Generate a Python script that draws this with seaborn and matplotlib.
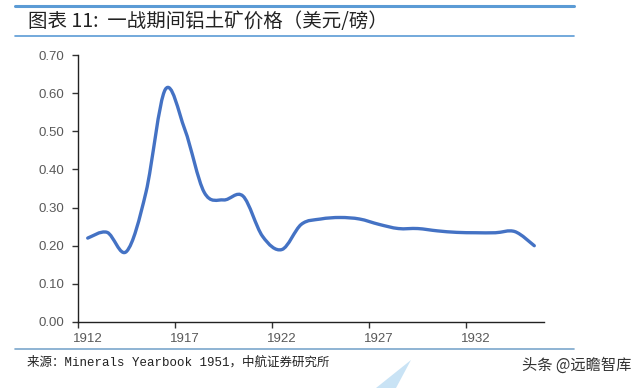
import numpy as np
import matplotlib

matplotlib.use('Agg')
import matplotlib.pyplot as plt
import seaborn as sns
from matplotlib.path import Path
from matplotlib.patches import PathPatch, Polygon
from matplotlib.lines import Line2D

# 数据：一战期间铝土矿价格（美元/磅）
years = list(range(1912, 1936))
prices = [0.22, 0.235, 0.185, 0.34, 0.61, 0.505, 0.34, 0.32, 0.33, 0.225,
          0.19, 0.256, 0.27, 0.274, 0.27, 0.256, 0.245, 0.245, 0.239, 0.235,
          0.234, 0.234, 0.237, 0.20]
year_labels = ['1912', '1917', '1922', '1927', '1932']
y_ticks = [0.0, 0.1, 0.2, 0.3, 0.4, 0.5, 0.6, 0.7]

title = '图表 11:  一战期间铝土矿价格（美元/磅）'
source = '来源：Minerals Yearbook 1951，中航证券研究所'
watermark = '头条 @远瞻智库'

sns.set_theme(style='ticks')
plt.rcParams['font.family'] = ['Liberation Sans', 'Noto Sans CJK SC', 'DejaVu Sans']

fig = plt.figure(figsize=(6.4, 3.88), dpi=100)
ax = fig.add_axes([78 / 640, 1 - 322 / 388, (544 - 78) / 640, (322 - 55) / 388])

# 平滑曲线（Excel 风格的 Catmull-Rom 贝塞尔）
x = np.array(years, dtype=float)
y = np.array(prices, dtype=float)
pts = np.column_stack([x, y])
ext = np.vstack([pts[0], pts, pts[-1]])
verts = [tuple(pts[0])]
codes = [Path.MOVETO]
for i in range(len(pts) - 1):
    p0, p1, p2, p3 = ext[i], ext[i + 1], ext[i + 2], ext[i + 3]
    c1 = p1 + (p2 - p0) / 6
    c2 = p2 - (p3 - p1) / 6
    verts += [tuple(c1), tuple(c2), tuple(p2)]
    codes += [Path.CURVE4] * 3
ax.add_patch(PathPatch(Path(verts, codes), facecolor='none', edgecolor='#4472C4',
                       linewidth=2.4, capstyle='round', joinstyle='round'))

ax.set_xlim(1911.5, 1935.5)
ax.set_ylim(0, 0.7)
ax.set_yticks(y_ticks)
ax.set_yticklabels([f'{v:.2f}' for v in y_ticks])
ax.set_xticks([int(s) for s in year_labels])
ax.set_xticklabels(year_labels)
ax.set_xticks([int(s) - 0.5 for s in year_labels], minor=True)
ax.tick_params(axis='x', which='major', length=0, pad=8, labelsize=9.5, labelcolor='#595959')
ax.tick_params(axis='x', which='minor', length=4, width=1, color='#333333', direction='out')
ax.tick_params(axis='y', length=4, width=1, color='#333333', labelsize=9.5,
               labelcolor='#595959', pad=6)
for s in ['top', 'right']:
    ax.spines[s].set_visible(False)
for s in ['left', 'bottom']:
    ax.spines[s].set_color('#222222')
    ax.spines[s].set_linewidth(1.0)
ax.grid(False)

# 标题与装饰线
fig.add_artist(Line2D([15 / 640, 574 / 640], [1 - 6 / 388] * 2, color='#5B9BD5', linewidth=2.2))
fig.add_artist(Line2D([15 / 640, 574 / 640], [1 - 36 / 388] * 2, color='#5B9BD5', linewidth=1.2))
fig.add_artist(Line2D([15 / 640, 574 / 640], [1 - 349 / 388] * 2, color='#7BA7CC', linewidth=1.2))
fig.text(28 / 640, 1 - 21 / 388, title, fontsize=14, color='#222222', va='center', ha='left',
         style='italic', family=['Noto Sans CJK SC', 'DejaVu Sans'])
fig.text(27 / 640, 1 - 362 / 388, source, fontsize=9, color='#222222', va='center', ha='left',
         family=['Liberation Mono', 'Noto Sans CJK SC', 'DejaVu Sans'])

# 水印
fig.add_artist(Polygon([[411 / 640, 1 - 360 / 388], [376 / 640, 0.0], [396 / 640, 0.0]],
                       closed=True, facecolor='#C9E3F5', edgecolor='none', transform=fig.transFigure))
fig.text(631 / 640, 1 - 365 / 388, watermark, fontsize=11, color='#333333', va='center', ha='right',
         family=['Noto Sans CJK SC', 'DejaVu Sans'])

fig.savefig('out.png', dpi=100)
